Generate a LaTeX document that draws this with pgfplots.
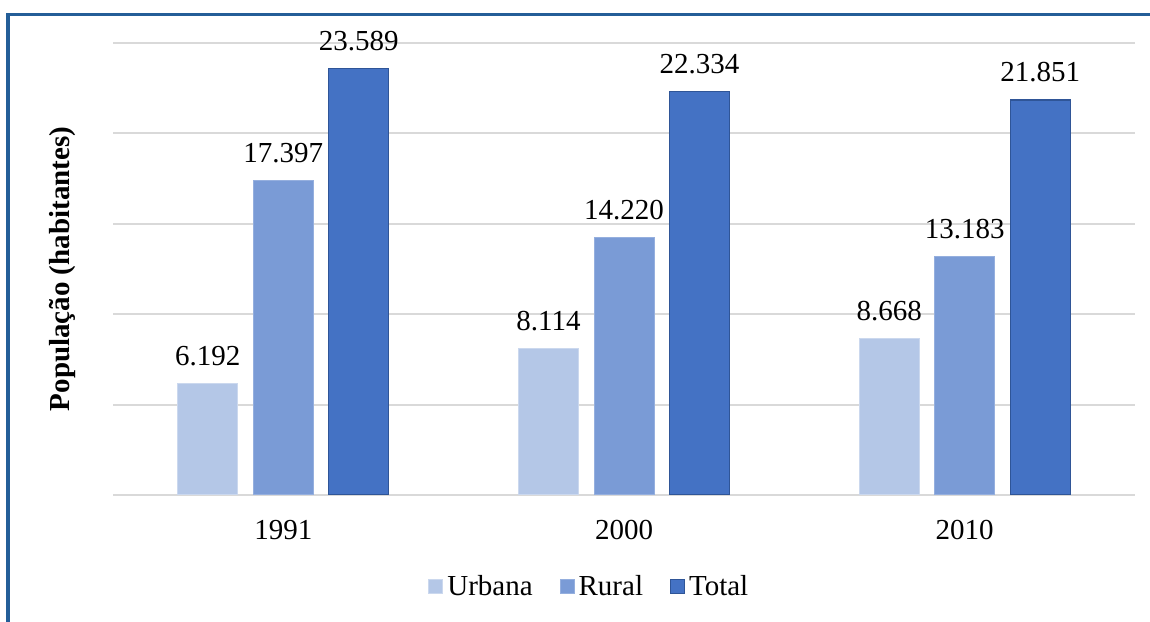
\documentclass[border=0pt]{standalone}
\usepackage{fontspec}
\setmainfont{Liberation Serif}
\usepackage{pgfplots}
\pgfplotsset{compat=1.18}
\definecolor{urb}{RGB}{180,199,231}
\definecolor{rur}{RGB}{122,155,214}
\definecolor{tot}{RGB}{68,114,196}
\definecolor{totb}{RGB}{47,85,151}
\definecolor{frm}{RGB}{36,94,152}
\definecolor{grd}{RGB}{217,217,217}
\newcommand{\fs}{\fontsize{14.5bp}{17bp}\selectfont}
\begin{document}
\begin{tikzpicture}
\path[use as bounding box] (0,0) rectangle (575bp,311bp);
\draw[frm, line width=1.6bp] (4bp,-2bp) -- (4bp,303.9bp) -- (580bp,303.9bp);
\begin{axis}[
  at={(56.5bp,63.5bp)}, anchor=south west,
  scale only axis, width=511bp, height=226bp,
  xmin=-0.5, xmax=2.5, ymin=0, ymax=25000,
  ytick={0,5000,...,25000}, yticklabels={}, scaled y ticks=false,
  ymajorgrids, grid style={grd, line width=1bp},
  axis x line*=bottom, axis y line*=left,
  x axis line style={grd, line width=1bp},
  y axis line style={draw=none},
  major tick length=0pt,
  xtick={0,1,2}, xticklabels={1991,2000,2010},
  xticklabel style={font=\fs, anchor=north, inner sep=0pt, yshift=-12.5bp},
  ylabel={\bfseries População (habitantes)},
  ylabel style={font=\fs, at={(axis description cs:-0.0499,0.5)}, anchor=center},
  ybar, bar width=30bp,
  nodes near coords, point meta=explicit symbolic,
  every node near coord/.append style={font=\fs, anchor=south, inner sep=0pt, yshift=8.5bp, text=black},
  legend columns=3,
  legend style={font=\fs, draw=none, at={(0.467,-0.2035)}, anchor=center,
    /tikz/every even column/.append style={column sep=11.5bp}},
  legend image code/.code={\draw[#1, line width=0.5bp] (-2bp,-3.5bp) rectangle (5bp,3.5bp);},
]
\addplot[fill=urb, draw=urb!70!white, line width=0.5bp, bar shift=-37.75bp] coordinates {(0,6192) [6.192] (1,8114) [8.114] (2,8668) [8.668]};
\addlegendentry{Urbana}
\addplot[fill=rur, draw=rur!80!white, line width=0.5bp, bar shift=0bp] coordinates {(0,17397) [17.397] (1,14220) [14.220] (2,13183) [13.183]};
\addlegendentry{Rural}
\addplot[fill=tot, draw=totb, line width=0.6bp, bar shift=37.75bp] coordinates {(0,23589) [23.589] (1,22334) [22.334] (2,21851) [21.851]};
\addlegendentry{Total}
\end{axis}
\end{tikzpicture}
\end{document}
